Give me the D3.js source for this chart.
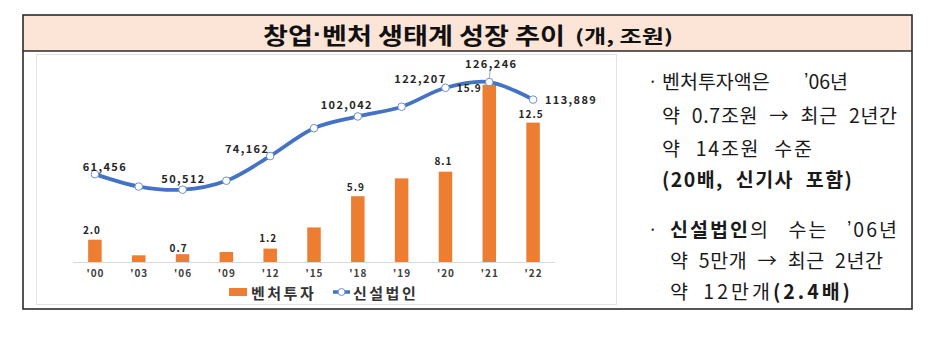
<!DOCTYPE html>
<html><head><meta charset="utf-8">
<script src="https://cdn.jsdelivr.net/npm/d3@7"></script>
<style>
html,body{margin:0;padding:0;background:#fff;}
svg{display:block;}
text{font-family:"Noto Sans CJK KR","Noto Sans",sans-serif;}
</style></head>
<body>
<svg id="c" width="929" height="337"></svg>
<script>
// ---- data ----
const years = ["'00","'03","'06","'09","'12","'15","'18","'19","'20","'21","'22"];
const ventureInvest = [2.0,0.6,0.7,0.9,1.2,3.1,5.9,7.5,8.1,15.9,12.5];     // 조원
const newCorps = [61456,52739,50512,56830,74162,93768,102042,108874,122207,126246,113889]; // 개
const labelled = ["'00","'06","'12","'18","'20","'21","'22"];
const titleParts = ["창업","·","벤처 생태계 성장 추이"];
const titleUnit = "(개, 조원)";
const legendLabels = ["벤처투자","신설법인"];

// ---- layout (not data) ----
const box={x:23,y:15,w:889,h:294,titleH:36};
const plot={x0:73,x1:555,base:262};
const lineLabelOff={"'00":[10,-7],"'06":[1,-11],"'12":[-23,-7],"'18":[-11,-11],"'20":[-25,-9],"'21":[2,-18],"'22":[38,1]};
const barLabelOff={"'00":[-3,-9],"'06":[-4,-6],"'12":[-2,-10],"'18":[-2,-9],"'20":[-2,-10],"'21":[-20,4],"'22":[-2,-8]};
const orange="#ED7D31", blue="#4472C4";

const svg=d3.select("#c");

// outer box & title band
svg.append("rect").attr("x",box.x).attr("y",box.y).attr("width",box.w).attr("height",box.titleH)
  .attr("fill","#FCE4D6");
svg.append("rect").attr("x",box.x).attr("y",box.y).attr("width",box.w).attr("height",box.h)
  .attr("fill","none").attr("stroke","#2b2b2b").attr("stroke-width",1.6);
svg.append("line").attr("x1",box.x).attr("x2",box.x+box.w).attr("y1",box.y+box.titleH).attr("y2",box.y+box.titleH)
  .attr("stroke","#2b2b2b").attr("stroke-width",1.4);

const tt=svg.append("text").attr("x",263).attr("y",box.y+box.titleH/2+1).attr("dominant-baseline","central")
  .attr("font-size",23).attr("font-weight",700).attr("fill","#111")
  .attr("textLength",302).attr("lengthAdjust","spacingAndGlyphs");
tt.append("tspan").text(titleParts[0]);
tt.append("tspan").attr("font-family","Liberation Sans").text(titleParts[1]);
tt.append("tspan").text(titleParts[2]);
svg.append("text").attr("x",575).attr("y",box.y+box.titleH/2+2).attr("dominant-baseline","central")
  .attr("font-size",18).attr("font-weight",700).attr("fill","#111")
  .attr("textLength",98).attr("lengthAdjust","spacingAndGlyphs").text(titleUnit);

// inner chart image frame
svg.append("rect").attr("x",36.5).attr("y",54.5).attr("width",580).attr("height",250)
  .attr("fill","#fff").attr("stroke","#e3e3e3").attr("stroke-width",1);

// scales
const x=d3.scalePoint().domain(years).range([plot.x0,plot.x1]).padding(0.5);
const yBar=d3.scaleLinear().domain([0,18]).range([plot.base,plot.base-18*11.15]);
const yLine=d3.scaleLinear().domain([0,140000]).range([261.5,62.5]);

// baseline
svg.append("line").attr("x1",plot.x0).attr("x2",plot.x1).attr("y1",plot.base+0.5).attr("y2",plot.base+0.5)
  .attr("stroke","#d9d9d9").attr("stroke-width",1);

// bars
const bw=13.5;
svg.append("g").selectAll("rect").data(years).join("rect")
  .attr("x",d=>x(d)-bw/2).attr("width",bw)
  .attr("y",(d,i)=>yBar(ventureInvest[i])).attr("height",(d,i)=>plot.base-yBar(ventureInvest[i]))
  .attr("fill",orange);

// x axis labels
const xAxis=d3.axisBottom(x).tickSize(0).tickPadding(0);
const gx=svg.append("g").attr("transform",`translate(0,${plot.base+8})`).call(xAxis);
gx.select(".domain").remove();
gx.selectAll("text").attr("font-family","'Noto Sans CJK KR',sans-serif").attr("font-size",10)
  .attr("font-weight",700).attr("fill","#404040").attr("letter-spacing",1).attr("dy","0.71em");

// line
const line=d3.line().x((d,i)=>x(years[i])).y(d=>yLine(d)).curve(d3.curveCatmullRom.alpha(0.5));
svg.append("path").datum(newCorps).attr("d",line).attr("fill","none")
  .attr("stroke",blue).attr("stroke-width",3.8).attr("stroke-linejoin","round");
svg.append("g").selectAll("circle").data(newCorps).join("circle")
  .attr("cx",(d,i)=>x(years[i])).attr("cy",d=>yLine(d)).attr("r",3.8)
  .attr("fill","#fff").attr("stroke","#6f8fd0").attr("stroke-width",1);

// leader line for '21
{
  const i=years.indexOf("'21");
  svg.append("line").attr("x1",x("'21")+1).attr("x2",x("'21")).attr("y1",yLine(newCorps[i])-13).attr("y2",yLine(newCorps[i])-4)
    .attr("stroke","#a6a6a6").attr("stroke-width",1);
}

const fmt=d3.format(",");
// line labels
svg.append("g").selectAll("text").data(labelled).join("text")
  .attr("x",d=>x(d)+lineLabelOff[d][0])
  .attr("y",d=>yLine(newCorps[years.indexOf(d)])+lineLabelOff[d][1]+3.8)
  .attr("text-anchor","middle").attr("font-size",11).attr("font-weight",700)
  .attr("letter-spacing",1.4).attr("fill","#262626")
  .text(d=>fmt(newCorps[years.indexOf(d)]));

// bar labels
svg.append("g").selectAll("text").data(labelled).join("text")
  .attr("x",d=>x(d)+barLabelOff[d][0])
  .attr("y",d=>yBar(ventureInvest[years.indexOf(d)])+barLabelOff[d][1]+3.6)
  .attr("text-anchor","middle").attr("font-size",10).attr("font-weight",700)
  .attr("letter-spacing",1).attr("fill","#262626")
  .text(d=>d3.format(".1f")(ventureInvest[years.indexOf(d)]));

// legend
const lg=svg.append("g");
lg.append("rect").attr("x",229).attr("y",288).attr("width",18).attr("height",8).attr("fill",orange);
lg.append("text").attr("x",251).attr("y",292).attr("dominant-baseline","central")
  .attr("font-size",15).attr("font-weight",700).attr("letter-spacing",2.5).attr("fill","#333").text(legendLabels[0]);
lg.append("line").attr("x1",333).attr("x2",350).attr("y1",292).attr("y2",292).attr("stroke",blue).attr("stroke-width",3.5);
lg.append("circle").attr("cx",341.5).attr("cy",292).attr("r",3.5).attr("fill","#fff").attr("stroke","#6f8fd0").attr("stroke-width",1);
lg.append("text").attr("x",353).attr("y",292).attr("dominant-baseline","central")
  .attr("font-size",15).attr("font-weight",700).attr("letter-spacing",2.5).attr("fill","#333").text(legendLabels[1]);

// right-hand notes: parts = [text, weight, useLatinFont]; gap = extra px per word space
const notes=[
  {y:80, x:662, len:186, gap:40, parts:[["벤처투자액은 ",400],["’",400,1],["06년",400]], bullet:648},
  {y:114,x:662, len:235, gap:6,  parts:[["약 0.7조원 → 최근 2년간",400]]},
  {y:147,x:662, len:150, gap:8,  parts:[["약 14조원 수준",400]]},
  {y:178,x:662, len:190, gap:6,  parts:[["(20배, 신기사 포함)",700]]},
  {y:228,x:670, len:227, gap:12, parts:[["신설법인",700],["의 수는 ",400],["’",400,1],["06년",400]], bullet:648},
  {y:259,x:670, len:213, gap:5,  parts:[["약 5만개 → 최근 2년간",400]]},
  {y:290,x:670, len:180, gap:5,  parts:[["약 12만개",400],["(2.4배)",700]]}
];
notes.forEach(n=>{
  if(n.bullet!==undefined){
    svg.append("text").attr("x",n.bullet).attr("y",n.y).attr("dominant-baseline","central")
      .attr("font-family","Liberation Sans").attr("font-size",17).attr("fill","#222").text("·");
  }
  const t=svg.append("text").attr("x",n.x).attr("y",n.y).attr("dominant-baseline","central")
    .attr("font-size",19.5).attr("fill","#1a1a1a");
  n.parts.forEach(p=>{
    const s=t.append("tspan").attr("font-weight",p[1]).text(p[0]);
    if(p[2]) s.attr("font-family","Liberation Sans");
  });
  const txt=n.parts.map(p=>p[0]).join("");
  const spaces=txt.split(" ").length-1;
  const cur=t.node().getComputedTextLength();
  const extra=n.len-cur;
  if(extra>0){
    let ws=Math.min(n.gap, spaces>0?extra/spaces:0);
    let ls=(extra-ws*spaces)/(txt.length-1);
    t.attr("letter-spacing",ls).attr("word-spacing",ws);
  } else {
    t.attr("textLength",n.len).attr("lengthAdjust","spacingAndGlyphs");
  }
});
</script>
</body></html>
